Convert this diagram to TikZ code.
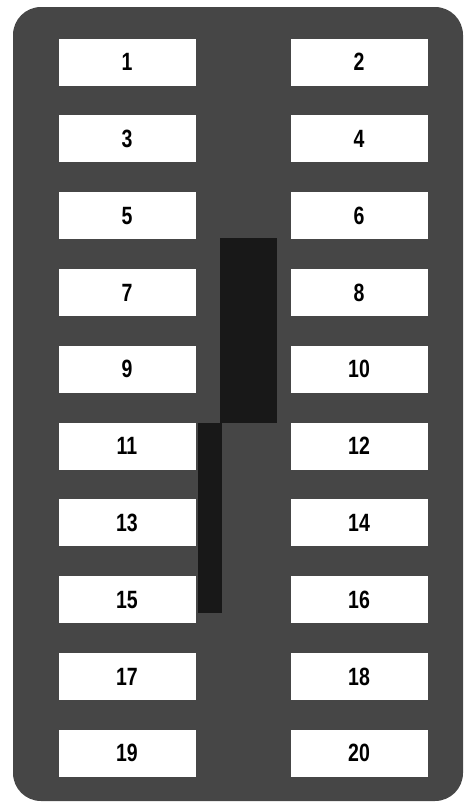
\documentclass[tikz,border=0pt]{standalone}
\usepackage{fontspec}
\setmainfont{Liberation Sans}[FakeStretch=0.78]
\definecolor{panelgrey}{RGB}{70,70,70}
\definecolor{paneldark}{RGB}{24,24,24}

\begin{document}
\begin{tikzpicture}[x=1pt,y=-1pt,
 slotbox/.style={fill=white,minimum width=137pt,minimum height=47pt,
  inner sep=0pt,font=\bfseries\fontsize{25}{25}\selectfont}]
 \useasboundingbox (0,0) rectangle (467,804);
 \fill[panelgrey,rounded corners=28pt] (13,7) rectangle (463,801);
 \fill[paneldark] (220,238) rectangle (277,423);
 \fill[paneldark] (198,423) rectangle (222,613);
 \foreach \r in {0,...,9}{
  \pgfmathtruncatemacro{\lft}{2*\r+1}
  \pgfmathtruncatemacro{\rgt}{2*\r+2}
  \node[slotbox] (slot\lft) at (127,62+76.8*\r) {\lft};
  \node[slotbox] (slot\rgt) at (359,62+76.8*\r) {\rgt};
 }
\end{tikzpicture}
\end{document}
